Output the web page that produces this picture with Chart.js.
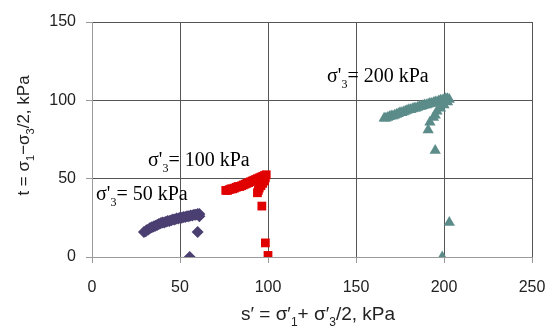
<!DOCTYPE html>
<html>
<head>
<meta charset="utf-8">
<script src="https://cdn.jsdelivr.net/npm/chart.js@4.4.1/dist/chart.umd.min.js"></script>
<style>
  html, body { margin: 0; padding: 0; background: #fff; }
  #wrap { width: 550px; height: 327px; }
</style>
</head>
<body>
<div id="wrap"><canvas id="c" width="550" height="327"></canvas></div>
<script>
// s' (kPa) and t (kPa), one pair of arrays per confining pressure
const s50 = [29.5, 30.5, 31, 32, 33, 34, 35, 36, 37, 38, 39, 40, 41, 42, 43, 44, 45, 46, 47, 48, 49, 50, 51, 52, 53, 54, 55, 56, 57, 58, 59, 60, 61, 61, 60, 55.5];
const t50 = [16, 16.5, 17, 17.5, 18.5, 19, 19.5, 20, 20.5, 21, 21.5, 22, 22, 22.5, 23, 23, 23.5, 24, 24, 24.5, 24.5, 25, 25, 25.5, 25.5, 26, 26, 26.5, 26.5, 27, 27, 27.5, 27.5, 26, 16, 0];

const s100 = [76, 77, 78, 79, 80, 81, 82, 83, 84, 85, 86, 87, 88, 89, 90, 91, 92, 93, 94, 95, 96, 97, 98, 99, 98.5, 98, 97, 96, 95, 94.5, 94, 96.5, 98.5, 100];
const t100 = [42.5, 42.5, 43, 43.5, 43.5, 44, 44.5, 45, 45, 45.5, 46, 46.5, 47, 47.5, 48, 48.5, 49, 49.5, 50, 50.5, 51, 51.5, 52, 52.5, 50.5, 48.5, 47, 45.5, 44, 42.5, 41, 32.5, 9, 1];

const s200 = [166, 167, 168, 169, 170, 171, 172, 173, 174, 175, 176, 177, 178, 179, 180, 181, 182, 183, 184, 185, 186, 187, 188, 189, 190, 191, 192, 193, 194, 195, 196, 197, 198, 199, 200, 201, 202, 203, 202, 200, 198, 196, 195, 194, 192, 191, 195, 203, 199];
const t200 = [88.5, 88.5, 89, 89.5, 90, 90, 90.5, 91, 91.5, 92, 92, 92.5, 93, 93.5, 94, 94, 94.5, 95, 95, 95.5, 96, 96, 96.5, 97, 97, 97.5, 98, 98, 98.5, 99, 99, 99.5, 100, 100, 100.5, 101, 101, 100.5, 99, 97, 95, 93, 90.5, 89, 86, 81, 68, 22, 0];

const xTicks = [0, 50, 100, 150, 200, 250];
const yTicks = [0, 50, 100, 150];

function pts(xs, ys) {
  return xs.map((x, i) => ({ x: x, y: ys[i] }));
}

// text with subscripts, drawn on the canvas
function rich(ctx, parts, x, y, size, family, color) {
  ctx.fillStyle = color;
  ctx.textBaseline = 'alphabetic';
  ctx.textAlign = 'left';
  let cx = x;
  parts.forEach(p => {
    const sub = Array.isArray(p);
    const txt = sub ? p[0] : p;
    const fs = sub ? Math.round(size * 0.62) : size;
    ctx.font = fs + 'px ' + family;
    ctx.fillText(txt, cx, sub ? y + size * 0.3 : y);
    cx += ctx.measureText(txt).width;
  });
  return cx - x;
}

function richWidth(ctx, parts, size, family) {
  let w = 0;
  parts.forEach(p => {
    const sub = Array.isArray(p);
    const txt = sub ? p[0] : p;
    ctx.font = (sub ? Math.round(size * 0.62) : size) + 'px ' + family;
    w += ctx.measureText(txt).width;
  });
  return w;
}

const labels = {
  id: 'labels',
  afterDatasetsDraw(chart) {
    const ctx = chart.ctx;
    const serif = '"Liberation Serif", "Times New Roman", serif';
    const sans = '"Liberation Sans", Arial, sans-serif';
    ctx.save();
    rich(ctx, ["σ'", ['3'], '= 200 kPa'], 327, 82, 20, serif, '#000');
    rich(ctx, ["σ'", ['3'], '= 100 kPa'], 148, 166, 20, serif, '#000');
    rich(ctx, ["σ'", ['3'], '= 50 kPa'], 96, 200, 20, serif, '#000');

    const area = chart.chartArea;
    const xt = ['s′ = σ′', ['1'], '+ σ′', ['3'], '/2, kPa'];
    const wx = richWidth(ctx, xt, 19, sans);
    rich(ctx, xt, (area.left + area.right) / 2 + 6 - wx / 2, 320, 19, sans, '#222');

    const yt = ['t = σ', ['1'], '−σ', ['3'], '/2, kPa'];
    const wy = richWidth(ctx, yt, 17, sans);
    ctx.translate(29, (area.top + area.bottom) / 2 - 4);
    ctx.rotate(-Math.PI / 2);
    rich(ctx, yt, -wy / 2, 0, 17, sans, '#222');
    ctx.restore();
  }
};

new Chart(document.getElementById('c'), {
  type: 'scatter',
  data: {
    datasets: [{
      data: pts(s50, t50),
      pointStyle: 'rectRot',
      pointRadius: 6,
      backgroundColor: '#4b3f72',
      borderColor: '#4b3f72',
      borderWidth: 0
    }, {
      data: pts(s100, t100),
      pointStyle: 'rect',
      pointRadius: 6.2,
      backgroundColor: '#e00000',
      borderColor: '#e00000',
      borderWidth: 0
    }, {
      data: pts(s200, t200),
      pointStyle: 'triangle',
      pointRadius: 6.5,
      backgroundColor: '#5b8c8a',
      borderColor: '#5b8c8a',
      borderWidth: 0
    }]
  },
  options: {
    responsive: false,
    animation: false,
    events: [],
    layout: { padding: { left: 0, top: 22, right: 18, bottom: 0 } },
    plugins: { legend: { display: false }, tooltip: { enabled: false } },
    scales: {
      x: {
        type: 'linear',
        min: 0,
        max: 250,
        afterBuildTicks: s => { s.ticks = xTicks.map(v => ({ value: v })); },
        afterFit: s => { s.height = 70; s.paddingLeft = 0; s.paddingRight = 0; },
        ticks: { color: '#222', font: { size: 16, family: '"Liberation Sans", Arial, sans-serif' }, padding: 15 },
        grid: { color: '#555', lineWidth: 1, tickLength: 6, tickColor: '#999' },
        border: { color: '#9a9a9a', width: 1 }
      },
      y: {
        type: 'linear',
        min: 0,
        max: 150,
        afterBuildTicks: s => { s.ticks = yTicks.map(v => ({ value: v })); },
        afterFit: s => { s.width = 92; s.paddingTop = 0; s.paddingBottom = 0; },
        ticks: { color: '#222', font: { size: 16, family: '"Liberation Sans", Arial, sans-serif' }, padding: 10 },
        grid: { color: '#555', lineWidth: 1, tickLength: 6, tickColor: '#999' },
        border: { color: '#9a9a9a', width: 1 }
      }
    }
  },
  plugins: [labels]
});
</script>
</body>
</html>
